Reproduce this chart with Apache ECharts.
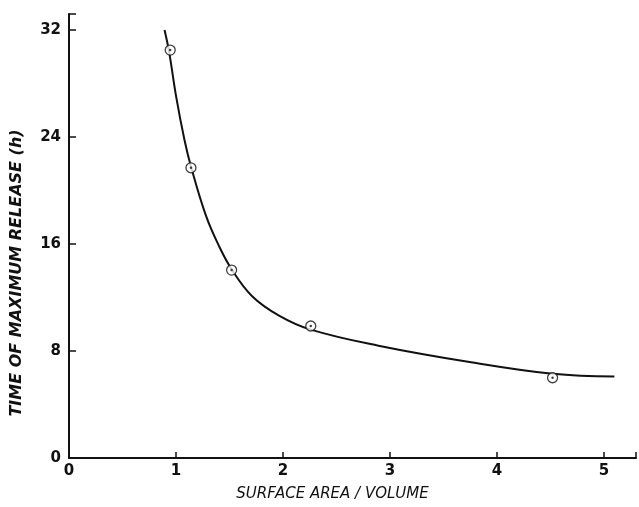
<!DOCTYPE html>
<html>
<head>
<meta charset="utf-8">
<script src="https://cdn.jsdelivr.net/npm/echarts@6/dist/echarts.min.js"></script>
<style>
  html, body { margin: 0; padding: 0; background: #fff; }
  #chart { width: 639px; height: 507px; }
</style>
</head>
<body>
<div id="chart"></div>
<script>
// measured points (surface area / volume, hours)
const pointX = [0.946, 1.14, 1.52, 2.26, 4.52];
const pointY = [30.5, 21.7, 14.05, 9.87, 6.0];

// hand-drawn fitted curve
const curveX = [0.893, 0.935, 1.002, 1.079, 1.14, 1.281, 1.405, 1.521, 1.712, 1.963, 2.26, 2.893, 3.73, 4.521, 5.098];
const curveY = [32.0, 30.4, 27.0, 23.8, 21.8, 18.1, 15.8, 14.1, 12.1, 10.65, 9.6, 8.4, 7.2, 6.3, 6.1];

const xTicks = [0, 1, 2, 3, 4, 5];
const yTicks = [0, 8, 16, 24, 32];

const xName = "SURFACE AREA / VOLUME";
const yName = "TIME OF MAXIMUM RELEASE (h)";

const chart = echarts.init(document.getElementById("chart"));

const pts = pointX.map((x, i) => [x, pointY[i]]);
const curve = curveX.map((x, i) => [x, curveY[i]]);

const axisFont = {
  color: "#111",
  fontFamily: "DejaVu Sans, sans-serif",
  fontWeight: "bold",
  fontSize: 15,
};

const option = {
  animation: false,
  backgroundColor: "#fff",
  grid: { left: 69, right: 0, top: 14, bottom: 48, containLabel: false },
  xAxis: {
    type: "value",
    min: 0,
    max: 5.3,
    interval: 1,
    name: xName,
    nameLocation: "middle",
    nameGap: 29,
    nameTextStyle: {
      color: "#111",
      fontFamily: "DejaVu Sans, sans-serif",
      fontStyle: "italic",
      fontSize: 15,
      padding: [0, 40, 0, 0],
    },
    axisLine: { lineStyle: { color: "#111", width: 2 } },
    axisTick: { inside: true, length: 6, lineStyle: { color: "#111", width: 1.5 } },
    axisLabel: Object.assign({
      margin: 6,
      formatter: (v) => (xTicks.includes(v) ? String(v) : ""),
    }, axisFont),
    splitLine: { show: false },
  },
  yAxis: {
    type: "value",
    min: 0,
    max: 33.2,
    interval: 8,
    name: yName,
    nameLocation: "middle",
    nameGap: 44,
    nameRotate: 90,
    nameTextStyle: {
      color: "#111",
      fontFamily: "DejaVu Sans, sans-serif",
      fontStyle: "italic",
      fontWeight: "bold",
      fontSize: 16,
      padding: [0, 74, 0, 0],
    },
    axisLine: { show: true, lineStyle: { color: "#111", width: 2 } },
    axisTick: { show: true, inside: true, length: 7, lineStyle: { color: "#111", width: 1.5 } },
    axisLabel: Object.assign({
      margin: 8,
      formatter: (v) => (yTicks.includes(v) ? String(v) : ""),
    }, axisFont),
    splitLine: { show: false },
  },
  series: [
    {
      name: "curve",
      type: "line",
      data: curve,
      smooth: 0.4,
      showSymbol: false,
      lineStyle: { color: "#111", width: 2 },
      z: 2,
    },
    {
      name: "points",
      type: "scatter",
      data: pts,
      symbol: "circle",
      symbolSize: 10,
      itemStyle: { color: "#fff", borderColor: "#111", borderWidth: 1.3 },
      z: 3,
    },
    {
      name: "centres",
      type: "scatter",
      data: pts,
      symbol: "circle",
      symbolSize: 2.5,
      itemStyle: { color: "#111" },
      z: 4,
    },
  ],
};

chart.setOption(option);
</script>
</body>
</html>
